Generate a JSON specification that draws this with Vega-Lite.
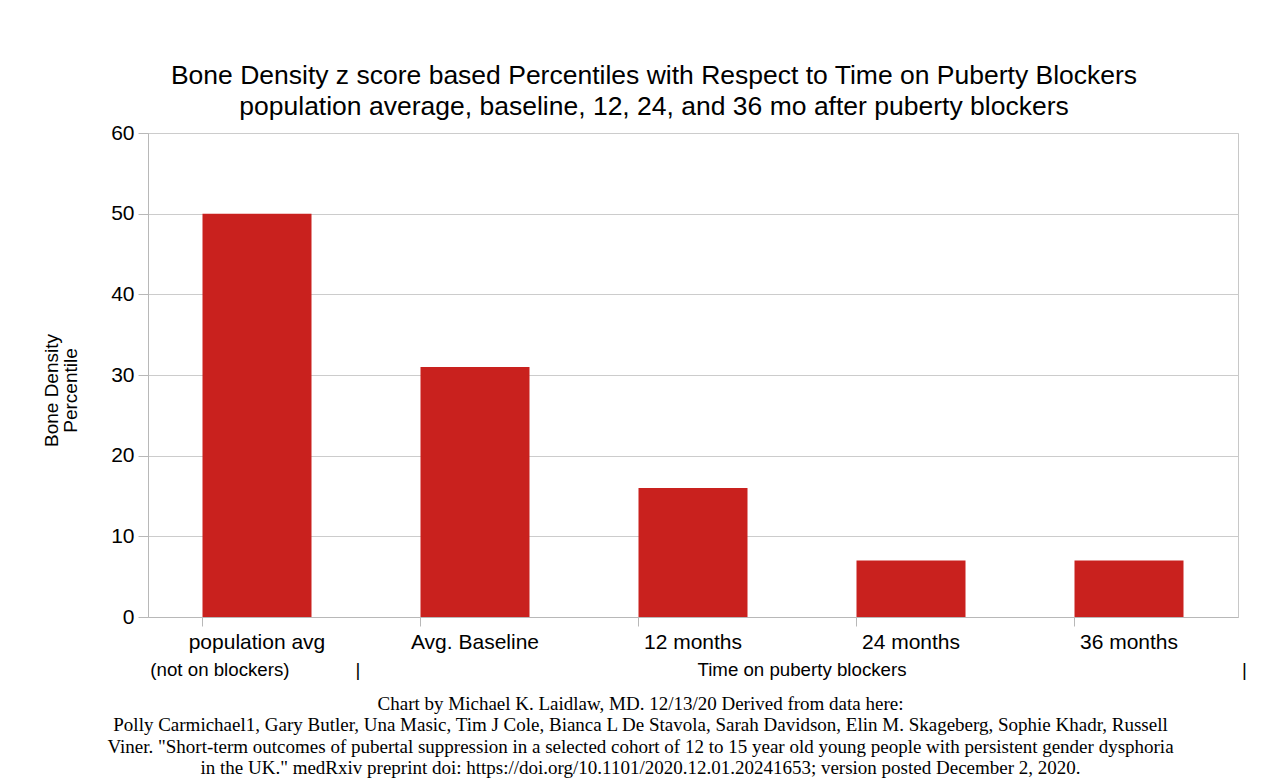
{
  "$schema": "https://vega.github.io/schema/vega-lite/v6.json",
  "width": 1090,
  "height": 484,
  "autosize": "none",
  "padding": {"left": 148, "top": 133, "right": 27, "bottom": 167},
  "background": "white",
  "config": {
    "view": {"stroke": "#c8c8c8", "strokeWidth": 1},
    "font": "Liberation Sans",
    "axis": {"labelColor": "#000", "titleColor": "#000", "domainColor": "#b8b8b8", "tickColor": "#b8b8b8", "gridColor": "#cccccc"}
  },
  "title": {
    "text": ["Bone Density z score based Percentiles with Respect to Time on Puberty Blockers", "population average, baseline, 12, 24, and 36 mo after puberty blockers"],
    "font": "Liberation Sans",
    "fontSize": 26.5,
    "fontWeight": "normal",
    "color": "#000",
    "anchor": "middle",
    "dx": -39,
    "offset": 2,
    "lineHeight": 31
  },
  "resolve": {"scale": {"x": "independent"}},
  "layer": [
    {
      "data": {"values": [
        {"category": "population avg", "percentile": 50},
        {"category": "Avg. Baseline", "percentile": 31},
        {"category": "12 months", "percentile": 16},
        {"category": "24 months", "percentile": 7},
        {"category": "36 months", "percentile": 7}
      ]},
      "mark": {"type": "bar", "color": "#c9211e"},
      "encoding": {
        "x": {
          "field": "category", "type": "nominal", "sort": null,
          "scale": {"paddingInner": 0.5, "paddingOuter": 0.25},
          "axis": {
            "labelAngle": 0, "labelFontSize": 21, "labelPadding": 5, "tickSize": 9, "bandPosition": 0, "grid": false,
            "title": [
              "Chart by Michael K. Laidlaw, MD. 12/13/20 Derived from data here:",
              "Polly Carmichael1, Gary Butler, Una Masic, Tim J Cole, Bianca L De Stavola, Sarah Davidson, Elin M. Skageberg, Sophie Khadr, Russell",
              "Viner.  \"Short-term outcomes of pubertal suppression in a selected cohort of 12 to 15 year old young people with persistent gender dysphoria",
              "in the UK.\" medRxiv preprint doi: https://doi.org/10.1101/2020.12.01.20241653; version posted December 2, 2020."
            ],
            "titleFont": "Liberation Serif", "titleFontSize": 19, "titleFontWeight": "normal",
            "titleX": 492, "titleY": 92, "titleBaseline": "alphabetic", "titleAlign": "center", "titleAnchor": null, "titleLineHeight": 21.5
          }
        },
        "y": {
          "field": "percentile", "type": "quantitative",
          "scale": {"domain": [0, 60], "nice": false},
          "axis": {
            "values": [0, 10, 20, 30, 40, 50, 60], "labelFontSize": 21, "tickSize": 10, "labelPadding": 4, "grid": true,
            "title": ["Bone Density", "Percentile"],
            "titleFontSize": 19, "titleFontWeight": "normal", "titleAngle": -90,
            "titleX": -91, "titleY": 257, "titleAlign": "center", "titleBaseline": "alphabetic", "titleLineHeight": 19
          }
        }
      }
    },
    {
      "data": {"values": [
        {"note": "(not on blockers)", "pos": 0.33},
        {"note": "|", "pos": 0.963},
        {"note": "Time on puberty blockers", "pos": 3.0},
        {"note": "|", "pos": 5.03}
      ]},
      "mark": {"type": "text", "fontSize": 18.7, "font": "Liberation Sans", "color": "#000", "align": "center", "baseline": "middle", "clip": false},
      "encoding": {
        "x": {"field": "pos", "type": "quantitative", "scale": {"domain": [0, 5], "nice": false, "zero": false}, "axis": null},
        "y": {"datum": -6.57},
        "text": {"field": "note"}
      }
    }
  ]
}
